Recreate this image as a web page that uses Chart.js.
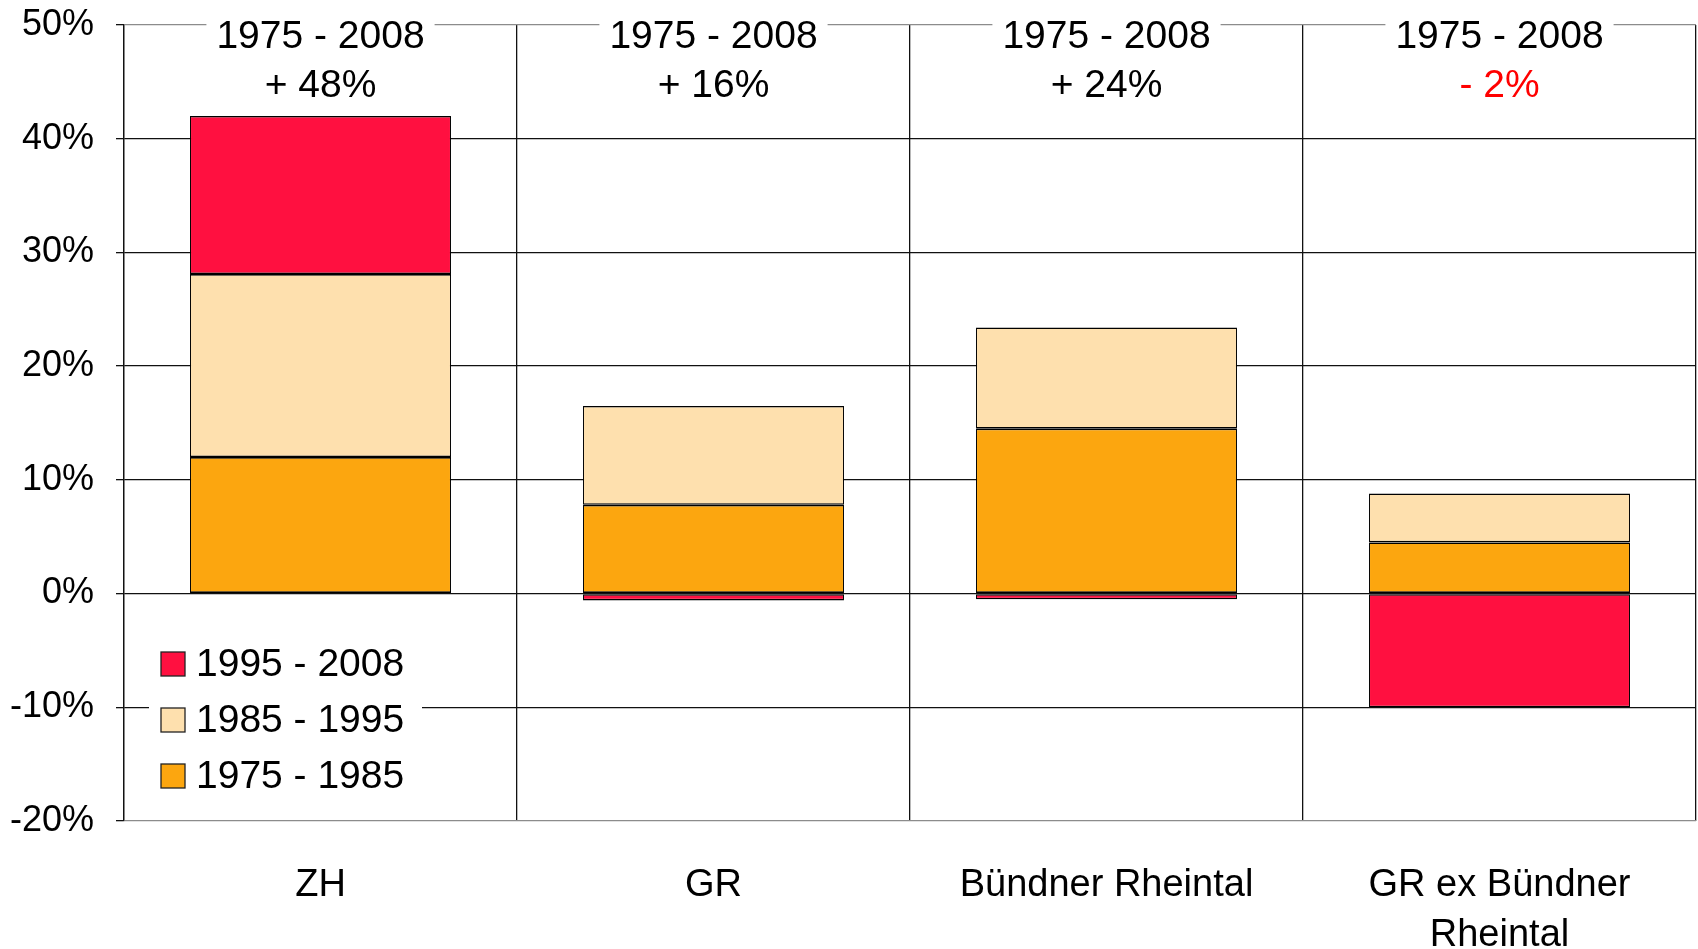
<!DOCTYPE html>
<html>
<head>
<meta charset="utf-8">
<script src="https://cdn.jsdelivr.net/npm/chart.js@4"></script>
<style>
  html, body { margin: 0; padding: 0; background: #fff; }
  #wrap { width: 1698px; height: 949px; }
</style>
</head>
<body>
<div id="wrap"><canvas id="chart" width="1698" height="949"></canvas></div>
<script>
// categories and values (percent change per period)
const regions = ['ZH', 'GR', 'Bündner Rheintal', ['GR ex Bündner', 'Rheintal']];
const period7585 = [12.0, 7.8, 14.5, 4.5];
const period8595 = [16.1, 8.7, 8.9, 4.3];
const period9508 = [13.9, -0.6, -0.5, -10.0];
const totalPeriod = ['1975 - 2008', '1975 - 2008', '1975 - 2008', '1975 - 2008'];
const totalChange = ['+ 48%', '+ 16%', '+ 24%', '- 2%'];
const yTicks = [-20, -10, 0, 10, 20, 30, 40, 50];

const colors = {
    red: '#ff1040',
    peach: '#fee0ae',
    orange: '#fca60f',
    border: '#000'
};
const FONT = 'Arial, "Liberation Sans", sans-serif';
const BIG = 39;

// totals written above each category, over a white patch that hides the top gridline
const totalsPlugin = {
    id: 'totals',
    afterDraw(chart) {
        const ctx = chart.ctx;
        const x = chart.scales.x;
        const top = chart.chartArea.top;
        ctx.save();
        ctx.font = BIG + 'px ' + FONT;
        ctx.textAlign = 'center';
        ctx.textBaseline = 'middle';
        totalPeriod.forEach((label, i) => {
            const cx = x.getPixelForValue(i);
            const w = ctx.measureText(label).width;
            ctx.fillStyle = '#fff';
            ctx.fillRect(cx - w / 2 - 10, top - 6, w + 20, 12);
            ctx.fillStyle = '#000';
            ctx.fillText(label, cx, top + 12);
            ctx.fillStyle = totalChange[i].startsWith('-') ? '#ff0000' : '#000';
            ctx.fillText(totalChange[i], cx, top + 61);
        });
        ctx.restore();
    }
};

// legend drawn inside the plot, bottom left, on a white patch
const innerLegend = {
    id: 'innerLegend',
    afterDraw(chart) {
        const ctx = chart.ctx;
        const area = chart.chartArea;
        const items = chart.data.datasets.slice().reverse();
        ctx.save();
        ctx.fillStyle = '#fff';
        ctx.fillRect(area.left + 25, area.bottom - 186, 273, 170);
        ctx.font = BIG + 'px ' + FONT;
        ctx.textBaseline = 'middle';
        items.forEach((ds, i) => {
            const y = area.bottom - 157 + i * 56;
            ctx.fillStyle = ds.backgroundColor;
            ctx.fillRect(area.left + 37, y - 12, 24, 24);
            ctx.strokeStyle = '#222';
            ctx.lineWidth = 1.3;
            ctx.strokeRect(area.left + 37, y - 12, 24, 24);
            ctx.fillStyle = '#000';
            ctx.fillText(ds.label, area.left + 72, y + 1);
        });
        ctx.restore();
    }
};

const makeSet = (label, data, color) => ({
    label: label,
    data: data,
    backgroundColor: color,
    borderColor: colors.border,
    borderWidth: { top: 1.6, bottom: 1.6, left: 1, right: 1 },
    borderSkipped: false,
    barPercentage: 0.664,
    categoryPercentage: 1
});

new Chart(document.getElementById('chart'), {
    type: 'bar',
    data: {
        labels: regions,
        datasets: [
            makeSet('1975 - 1985', period7585, colors.orange),
            makeSet('1985 - 1995', period8595, colors.peach),
            makeSet('1995 - 2008', period9508, colors.red)
        ]
    },
    options: {
        responsive: false,
        animation: false,
        layout: { padding: { top: 25, right: 2, left: 0, bottom: 0 } },
        plugins: {
            legend: { display: false },
            tooltip: { enabled: false }
        },
        scales: {
            x: {
                stacked: true,
                grid: { offset: true, color: '#111', lineWidth: 1.3, drawTicks: false },
                border: { display: false },
                ticks: {
                    color: '#000',
                    font: { family: FONT, size: 38, lineHeight: 1.3 },
                    padding: 40,
                    maxRotation: 0
                },
                afterFit(scale) { scale.height = 128; }
            },
            y: {
                stacked: true,
                min: -20,
                max: 50,
                afterBuildTicks(scale) { scale.ticks = yTicks.map(v => ({ value: v })); },
                grid: {
                    color: ctx => (ctx.tick && (ctx.tick.value === 50 || ctx.tick.value === -20)) ? '#8c8c8c' : '#111',
                    lineWidth: 1.3,
                    tickLength: 8,
                    tickColor: '#111'
                },
                border: { color: '#111', width: 1.3 },
                ticks: {
                    color: '#000',
                    font: { family: FONT, size: 36 },
                    padding: 22,
                    callback: v => v + '%'
                },
                afterFit(scale) {
                    scale.width = 124;
                    scale.paddingTop = 0;
                    scale.paddingBottom = 0;
                }
            }
        }
    },
    plugins: [totalsPlugin, innerLegend]
});
</script>
</body>
</html>
